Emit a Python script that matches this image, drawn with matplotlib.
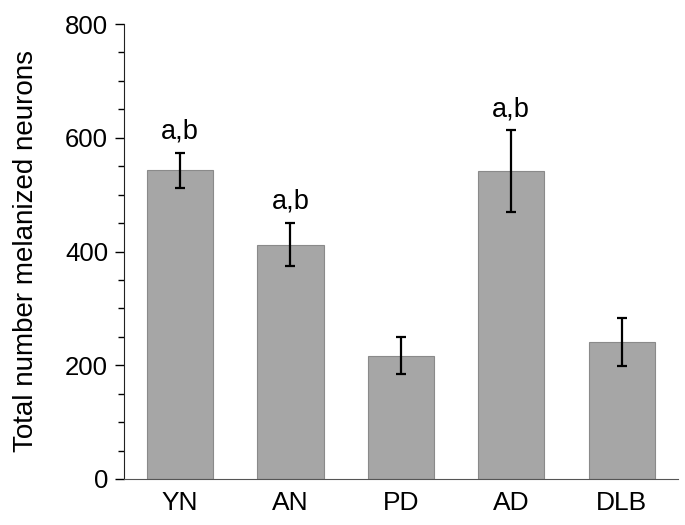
import matplotlib
matplotlib.use("Agg")
import matplotlib.pyplot as plt
from matplotlib.ticker import MultipleLocator

# data
groups = ["YN", "AN", "PD", "AD", "DLB"]
means = [543, 412, 217, 541, 241]
errors = [31, 38, 32, 72, 42]
labels = ["a,b", "a,b", "", "a,b", ""]

plt.rcParams['font.family'] = ['Liberation Sans', 'DejaVu Sans']

fig = plt.figure(figsize=(6.85, 5.25), dpi=100)
ax = fig.add_axes([124/685, 1 - 479/525, (678-124)/685, (479-24)/525])

x = range(len(groups))
ax.bar(x, means, width=0.6, color='#a6a6a6', edgecolor='#8a8a8a', linewidth=0.8)
ax.errorbar(x, means, yerr=errors, fmt='none', ecolor='black',
            elinewidth=1.6, capsize=3.5, capthick=1.6)

for i, (m, e, t) in enumerate(zip(means, errors, labels)):
    if t:
        ax.text(i, m + e + 25, t, ha='center', va='baseline', fontsize=19.5)

ax.set_xlim(-0.507, 4.51)
ax.set_ylim(0, 800)
ax.set_xticks(list(x))
ax.set_xticklabels(groups, fontsize=19)
ax.tick_params(axis='x', length=0, pad=9)
ax.yaxis.set_major_locator(MultipleLocator(200))
ax.yaxis.set_minor_locator(MultipleLocator(50))
ax.tick_params(axis='y', which='major', length=6.5, width=1, labelsize=18.5, pad=5)
ax.tick_params(axis='y', which='minor', length=4.5, width=1)
ax.set_ylabel("Total number melanized neurons", fontsize=20, labelpad=19)

for s in ['top', 'right']:
    ax.spines[s].set_visible(False)
ax.spines['left'].set_color('#222222')
ax.spines['bottom'].set_color('#555555')

fig.savefig("out.png", dpi=100)
